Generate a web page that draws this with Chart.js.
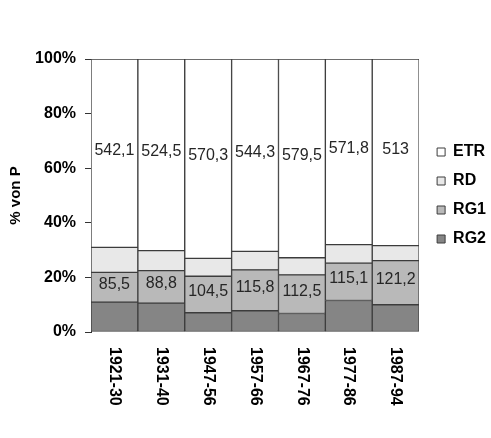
<!DOCTYPE html>
<html>
<head>
<meta charset="utf-8">
<script src="https://cdn.jsdelivr.net/npm/chart.js@4.4.1/dist/chart.umd.min.js"></script>
<style>
  html, body { margin: 0; padding: 0; background: #fff; }
  #wrap { width: 491px; height: 438px; }
</style>
</head>
<body>
<div id="wrap"><canvas id="chart"></canvas></div>
<script>
'use strict';

// Water balance components per period (mm), shown as share of precipitation P
const periods = ['1921-30', '1931-40', '1947-56', '1957-66', '1967-76', '1977-86', '1987-94'];
const etr = [542.1, 524.5, 570.3, 544.3, 579.5, 571.8, 513];
const rd  = [72, 55, 51, 52, 50, 57, 41];
const rg1 = [85.5, 88.8, 104.5, 115.8, 112.5, 115.1, 121.2];
const rg2 = [86, 79, 55, 60, 54, 97, 75];
const yTicks = [0, 20, 40, 60, 80, 100];

const totals = periods.map((p, i) => etr[i] + rd[i] + rg1[i] + rg2[i]);
const share = arr => arr.map((v, i) => v / totals[i] * 100);

Chart.defaults.font.family = '"Liberation Sans", Arial, sans-serif';

/**
 * Write the absolute values into the labelled segments.
 */
const valueLabels = {
    id: 'valueLabels',
    afterDatasetsDraw(chart) {
        const ctx = chart.ctx;
        ctx.save();
        ctx.font = '16px "Liberation Sans", Arial, sans-serif';
        ctx.fillStyle = '#262626';
        ctx.textAlign = 'center';
        ctx.textBaseline = 'middle';
        chart.data.datasets.forEach((ds, di) => {
            if (!ds.labelled) return;
            chart.getDatasetMeta(di).data.forEach((bar, i) => {
                const {x, y, base} = bar.getProps(['x', 'y', 'base'], true);
                ctx.fillText(String(ds.values[i]).replace('.', ','), x, (y + base) / 2 - 3);
            });
        });
        ctx.restore();
    }
};

/**
 * Period names below the bars, turned to read top to bottom.
 */
const periodLabels = {
    id: 'periodLabels',
    afterDraw(chart) {
        const ctx = chart.ctx;
        const xs = chart.scales.x;
        ctx.save();
        ctx.font = 'bold 16px "Liberation Sans", Arial, sans-serif';
        ctx.fillStyle = '#000';
        ctx.textAlign = 'left';
        ctx.textBaseline = 'middle';
        periods.forEach((p, i) => {
            ctx.save();
            ctx.translate(xs.getPixelForValue(i), chart.chartArea.bottom + 15);
            ctx.rotate(Math.PI / 2);
            ctx.fillText(p, 0, 0);
            ctx.restore();
        });
        ctx.restore();
    }
};

// leave a little more room between the bars and the legend
const legendGap = {
    id: 'legendGap',
    afterLayout(chart) {
        chart.legend.left += 5;
        chart.legend.right += 5;
    }
};

const barStyle = {
    borderColor: '#3c3c3c',
    borderWidth: 1,
    borderSkipped: false,
    categoryPercentage: 1,
    barPercentage: 1
};

new Chart(document.getElementById('chart'), {
    type: 'bar',
    data: {
        labels: periods,
        datasets: [
            Object.assign({label: 'RG2', data: share(rg2), values: rg2, backgroundColor: '#858585'}, barStyle),
            Object.assign({label: 'RG1', data: share(rg1), values: rg1, labelled: true, backgroundColor: '#b9b9b9'}, barStyle),
            Object.assign({label: 'RD', data: share(rd), values: rd, backgroundColor: '#e8e8e8'}, barStyle),
            Object.assign({label: 'ETR', data: share(etr), values: etr, labelled: true, backgroundColor: '#ffffff'}, barStyle)
        ]
    },
    options: {
        responsive: true,
        maintainAspectRatio: false,
        animation: false,
        layout: {padding: {top: 59, bottom: 106, left: 0, right: 0}},
        plugins: {
            legend: {
                position: 'right',
                reverse: true,
                labels: {
                    boxWidth: 8,
                    boxHeight: 8,
                    padding: 13,
                    color: '#000',
                    font: {size: 16, weight: 'bold'}
                }
            },
            tooltip: {enabled: false}
        },
        scales: {
            x: {
                stacked: true,
                display: false
            },
            y: {
                stacked: true,
                min: 0,
                max: 100,
                afterFit: s => { s.width = 91; },
                afterBuildTicks: s => { s.ticks = yTicks.map(v => ({value: v})); },
                border: {display: true, color: '#333', width: 1},
                grid: {drawOnChartArea: false, drawTicks: true, tickLength: 6, color: '#333'},
                ticks: {
                    padding: 9,
                    color: '#000',
                    font: {size: 16, weight: 'bold'},
                    callback: v => v + '%'
                },
                title: {
                    display: true,
                    text: '% von P',
                    color: '#000',
                    padding: {top: 7, bottom: 0},
                    font: {size: 15, weight: 'bold'}
                }
            }
        }
    },
    plugins: [valueLabels, periodLabels, legendGap]
});
</script>
</body>
</html>
